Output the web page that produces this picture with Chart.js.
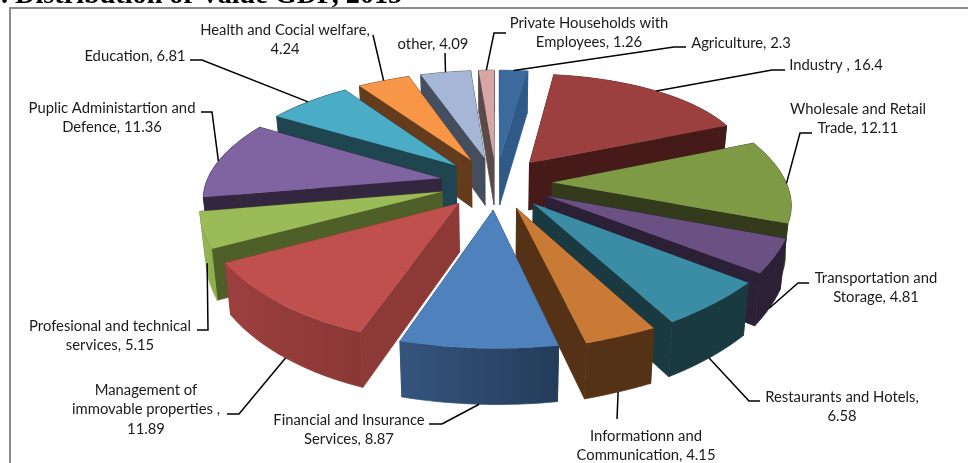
<!DOCTYPE html>
<html>
<head>
<meta charset="utf-8">
<title>Distribution of Value GDP</title>
<script src="https://cdn.jsdelivr.net/npm/chart.js@4/dist/chart.umd.min.js"></script>
<style>
  html, body { margin: 0; padding: 0; background: #fff; overflow: hidden; }
  canvas { display: block; }
</style>
</head>
<body>
<canvas id="pie" width="968" height="463"></canvas>
<script>
// values, clockwise from 12 o'clock
const categories = ['Agriculture', 'Industry ', 'Wholesale and Retail Trade', 'Transportation and Storage',
  'Restaurants and Hotels', 'Informationn and Communication', 'Financial and Insurance Services',
  'Management of immovable properties ', 'Profesional and technical services', 'Puplic Administartion and Defence',
  'Education', 'Health and Cocial welfare', 'other', 'Private Households with Employees'];
const values = [2.3, 16.4, 12.11, 4.81, 6.58, 4.15, 8.87, 11.89, 5.15, 11.36, 6.81, 4.24, 4.09, 1.26];

// colours
const topColors = ['#3c6a9e', '#9b403e', '#7e9a45', '#6b5084', '#3b8ca5', '#c97a35', '#4f81bd',
  '#c0504d', '#9bbb59', '#8064a2', '#4bacc6', '#f79646', '#a5b6d6', '#d9a5a5'];
const wallColors = ['#2f5a88', '#451a18', '#343b1d', '#2b2035', '#1a3a42', '#553216', '#2b4769',
  '#8d3937', '#4e5f28', '#33263f', '#1f4650', '#643c1c', '#454e5e', '#5c4a4a'];
const rimLeft = ['#2f5a88', '#451a18', '#343b1d', '#2b2035', '#1a3a42', '#553216', '#35557e',
  '#9c403e', '#9bbb59', '#33263f', '#1f4650', '#643c1c', '#454e5e', '#5c4a4a'];
const rimRight = ['#2f5a88', '#451a18', '#343b1d', '#2b2035', '#1a3a42', '#553216', '#243c5a',
  '#8a3736', '#8fae50', '#33263f', '#1f4650', '#643c1c', '#454e5e', '#5c4a4a'];

// label text lines, one row per slice
const labelLines = [
  ['Agriculture, 2.3'], ['Industry , 16.4'], ['Wholesale and Retail', 'Trade, 12.11'], ['Transportation and', 'Storage, 4.81'],
  ['Restaurants and Hotels,', '6.58'], ['Informationn and', 'Communication, 4.15'], ['Financial and Insurance', 'Services, 8.87'],
  ['Management of', 'immovable properties ,', '11.89'], ['Profesional and technical', 'services, 5.15'], ['Puplic Administartion and', 'Defence, 11.36'],
  ['Education, 6.81'], ['Health and Cocial welfare,', '4.24'], ['other, 4.09'], ['Private Households with', 'Employees, 1.26']
];

// where each label sits: centre x, first line y, elbow of the leader, how far down the wall it lands (0 top, 1 bottom)
const labelLayout = [
  { x: 741, y: 43, elbow: [[686, 47], [674, 47]], wall: 0 },
  { x: 836, y: 65, elbow: [[785, 70], [772, 70]], wall: 0 },
  { x: 858, y: 109, elbow: [[812, 133], [800, 133]], wall: 0 },
  { x: 876, y: 278, elbow: [[809, 283], [798, 283]], wall: 1 },
  { x: 842, y: 397, elbow: [[760, 401], [749, 401]], wall: 1 },
  { x: 646, y: 436, elbow: [[617, 419]], wall: 1 },
  { x: 349, y: 420, elbow: [[429, 424], [442, 424]], wall: 1 },
  { x: 146, y: 390, elbow: [[227, 414], [239, 414]], wall: 1 },
  { x: 110, y: 326, elbow: [[197, 330], [208, 330]], wall: 0.65 },
  { x: 112, y: 108, elbow: [[201, 112], [212, 112]], wall: 0 },
  { x: 135, y: 56, elbow: [[190, 60], [202, 60]], wall: 0 },
  { x: 285, y: 30, elbow: [[373, 35]], wall: 0 },
  { x: 433, y: 44, elbow: [[445, 53]], wall: 0 },
  { x: 589, y: 23, elbow: [[506, 33], [494, 33]], wall: 0 }
];

// fake 3D camera: ground plane (u, v) in pie radii, v towards the viewer
const cam = { cx: 496, cy: 183, sx: 235, sy: 108.7, persp: 0.156, depth: 48, shrink: 0.98 };

function project(u, v, z){
  const f = 1 / (1 - cam.persp * v);
  const s = z ? 1 - (1 - cam.shrink) * z : 1;
  return {
    x: cam.cx + cam.sx * u * f * s,
    y: cam.cy + cam.sy * v * f * s + cam.depth * z * f
  };
}

// affine that sends three points of the chart's own pie onto three projected points
function fitAffine(p, q){
  const d = (p[1].x - p[0].x) * (p[2].y - p[0].y) - (p[2].x - p[0].x) * (p[1].y - p[0].y);
  const ax = ((q[1].x - q[0].x) * (p[2].y - p[0].y) - (q[2].x - q[0].x) * (p[1].y - p[0].y)) / d;
  const cx = ((q[2].x - q[0].x) * (p[1].x - p[0].x) - (q[1].x - q[0].x) * (p[2].x - p[0].x)) / d;
  const ay = ((q[1].y - q[0].y) * (p[2].y - p[0].y) - (q[2].y - q[0].y) * (p[1].y - p[0].y)) / d;
  const cy = ((q[2].y - q[0].y) * (p[1].x - p[0].x) - (q[1].y - q[0].y) * (p[2].x - p[0].x)) / d;
  return {
    a: ax, b: ay, c: cx, d: cy,
    e: q[0].x - ax * p[0].x - cx * p[0].y,
    f: q[0].y - ay * p[0].x - cy * p[0].y
  };
}
const apply = (m, x, y) => ({ x: m.a * x + m.c * y + m.e, y: m.b * x + m.d * y + m.f });

// geometry of one arc element: local points plus top and bottom transforms
function sliceGeometry(el){
  const off = (el.options.offset || 0) / 4;   // ArcElement.draw moves by a quarter of the option
  const R = el.outerRadius;
  const mid = (el.startAngle + el.endAngle) / 2;
  const fix = 1 - Math.sin(Math.min(Math.PI, el.circumference || 0));
  const grow = off * fix;
  const Rdraw = R + grow;
  // the library also trims the arc's angles by this much on each side
  const alpha = el.endAngle - el.startAngle;
  const beta = Math.max(0.001, alpha * Rdraw - grow / Math.PI) / Rdraw;
  const ax = el.x + Math.cos(mid) * off, ay = el.y + Math.sin(mid) * off;
  const e = off / R;
  const ou = Math.cos(mid) * e, ov = Math.sin(mid) * e;
  const local = t => {
    const a = mid + (t - mid) * beta / alpha;
    return { x: ax + Rdraw * Math.cos(a), y: ay + Rdraw * Math.sin(a) };
  };
  const ground = t => [ou + Math.cos(t), ov + Math.sin(t)];
  const src = [{ x: ax, y: ay }, local(el.startAngle), local(el.endAngle)];
  const g0 = [[ou, ov], ground(el.startAngle), ground(el.endAngle)];
  const top = fitAffine(src, g0.map(g => project(g[0], g[1], 0)));
  const bottom = fitAffine(src, g0.map(g => project(g[0], g[1], 1)));
  return { ax, ay, local, top, bottom, mid, ov };
}

// fill plus a hairline of the same paint, so neighbouring wall pieces leave no seam
function paint(ctx, fill){
  ctx.fillStyle = fill;
  ctx.strokeStyle = fill;
  ctx.lineWidth = 0.7;
  ctx.fill();
  ctx.stroke();
}

function quad(ctx, a, b, c, d, fill){
  ctx.beginPath();
  ctx.moveTo(a.x, a.y); ctx.lineTo(b.x, b.y); ctx.lineTo(c.x, c.y); ctx.lineTo(d.x, d.y);
  ctx.closePath();
  paint(ctx, fill);
}

function drawSlice(ctx, el, i){
  const g = sliceGeometry(el);
  const ps = g.local(el.startAngle), pe = g.local(el.endAngle);
  const apexT = apply(g.top, g.ax, g.ay), apexB = apply(g.bottom, g.ax, g.ay);
  const sT = apply(g.top, ps.x, ps.y), sB = apply(g.bottom, ps.x, ps.y);
  const eT = apply(g.top, pe.x, pe.y), eB = apply(g.bottom, pe.x, pe.y);

  // radial walls first, then the rim, then the face from the library's arc
  quad(ctx, apexT, sT, sB, apexB, wallColors[i]);
  quad(ctx, apexT, eT, eB, apexB, wallColors[i]);

  const steps = 40;
  const grad = ctx.createLinearGradient(Math.min(sT.x, eT.x), 0, Math.max(sT.x, eT.x), 0);
  grad.addColorStop(0, rimLeft[i]);
  grad.addColorStop(1, rimRight[i]);
  ctx.beginPath();
  for (let k = 0; k <= steps; k++){
    const t = el.startAngle + (el.endAngle - el.startAngle) * k / steps;
    const l = g.local(t), p = apply(g.top, l.x, l.y);
    if (k) ctx.lineTo(p.x, p.y); else ctx.moveTo(p.x, p.y);
  }
  for (let k = steps; k >= 0; k--){
    const t = el.startAngle + (el.endAngle - el.startAngle) * k / steps;
    const l = g.local(t), p = apply(g.bottom, l.x, l.y);
    ctx.lineTo(p.x, p.y);
  }
  ctx.closePath();
  paint(ctx, grad);

  ctx.save();
  ctx.transform(g.top.a, g.top.b, g.top.c, g.top.d, g.top.e, g.top.f);
  el.draw(ctx);
  ctx.restore();
}

const pie3d = {
  id: 'pie3d',
  beforeDatasetDraw(chart){
    const ctx = chart.ctx;
    const arcs = chart.getDatasetMeta(0).data;
    // far slices first
    const order = arcs.map((el, i) => i).sort((a, b) => {
      return Math.sin((arcs[a].startAngle + arcs[a].endAngle) / 2) - Math.sin((arcs[b].startAngle + arcs[b].endAngle) / 2);
    });
    order.forEach(i => drawSlice(ctx, arcs[i], i));
    return false;
  },
  afterDraw(chart){
    const ctx = chart.ctx;
    const arcs = chart.getDatasetMeta(0).data;
    ctx.save();

    // picture frame and the cropped title above it
    ctx.strokeStyle = '#8c8c8c';
    ctx.lineWidth = 2;
    ctx.beginPath();
    ctx.moveTo(10, 463); ctx.lineTo(10, 8); ctx.lineTo(968, 8);
    ctx.stroke();
    ctx.fillStyle = '#000';
    ctx.font = 'bold 28.2px "Liberation Serif"';
    ctx.textAlign = 'left';
    ctx.textBaseline = 'alphabetic';
    ctx.fillText('. Distribution of Value GDP, 2015', 1, 3);

    // leaders
    ctx.strokeStyle = '#000';
    ctx.lineWidth = 1.5;
    arcs.forEach((el, i) => {
      const g = sliceGeometry(el);
      const lay = labelLayout[i];
      const l = g.local(g.mid);
      const t = apply(g.top, l.x, l.y), b = apply(g.bottom, l.x, l.y);
      ctx.beginPath();
      ctx.moveTo(lay.elbow[0][0], lay.elbow[0][1]);
      lay.elbow.slice(1).forEach(p => ctx.lineTo(p[0], p[1]));
      ctx.lineTo(t.x + (b.x - t.x) * lay.wall, t.y + (b.y - t.y) * lay.wall);
      ctx.stroke();
    });

    // data labels
    ctx.fillStyle = '#1a1a1a';
    ctx.font = '14.8px Lato';
    ctx.textAlign = 'center';
    ctx.textBaseline = 'middle';
    labelLines.forEach((lines, i) => {
      lines.forEach((line, k) => ctx.fillText(line, labelLayout[i].x, labelLayout[i].y + k * 19.5));
    });
    ctx.restore();
  }
};

new Chart(document.getElementById('pie'), {
  type: 'pie',
  data: {
    labels: categories,
    datasets: [{
      data: values,
      backgroundColor: topColors,
      borderWidth: 0,
      offset: 150
    }]
  },
  options: {
    responsive: false,
    animation: false,
    plugins: { legend: { display: false }, tooltip: { enabled: false } }
  },
  plugins: [pie3d]
});
</script>
</body>
</html>
